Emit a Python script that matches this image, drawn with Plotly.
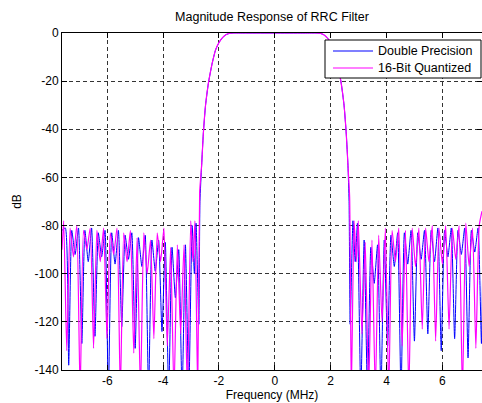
import plotly.graph_objects as go

# ---- data ----
freq_double = [
    -7.62, -7.50, -7.38, -7.27, -7.15, -7.03, -6.91, -6.80, -6.68, -6.56,
    -6.44, -6.32, -6.20, -6.08, -5.96, -5.84, -5.72, -5.60, -5.48, -5.36,
    -5.24, -5.12, -5.00, -4.88, -4.76, -4.64, -4.52, -4.40, -4.28, -4.16,
    -4.04, -3.92, -3.80, -3.68, -3.56, -3.44, -3.32, -3.20, -3.08, -2.96,
    -2.88, -2.82, -2.72,
    -2.68, -2.62, -2.56, -2.48, -2.38, -2.25, -2.12, -2.00, -1.88, -1.75,
    -1.60, -1.45, -1.00, 0.00, 1.00, 1.45, 1.60, 1.75, 1.88, 2.00,
    2.12, 2.25, 2.38, 2.48, 2.56, 2.62, 2.66,
    2.70, 2.80, 2.88, 2.96, 3.08, 3.20, 3.32, 3.44, 3.56, 3.68,
    3.80, 3.92, 4.04, 4.16, 4.28, 4.40, 4.52, 4.64, 4.76, 4.88,
    5.00, 5.12, 5.24, 5.36, 5.48, 5.60, 5.72, 5.84, 5.96, 6.08,
    6.20, 6.32, 6.44, 6.56, 6.68, 6.80, 6.92, 7.04, 7.16, 7.28,
    7.40, 7.45,
]
db_double = [
    -82, -81, -138, -82, -92, -81, -129, -82, -95, -81,
    -126, -83, -93, -82, -150, -83, -96, -82, -122, -84,
    -94, -83, -131, -85, -97, -84, -150, -86, -99, -86,
    -124, -87, -150, -89, -110, -90, -150, -88, -150, -80,
    -100, -79, -121,
    -70, -55, -42, -30, -21, -13, -7, -4, -2, -0.7,
    -0.1, 0, 0, 0, 0, 0, -0.1, -0.7, -2, -4,
    -7, -13, -21, -30, -42, -55, -70,
    -121, -78, -95, -79, -150, -86, -150, -89, -104, -88,
    -150, -86, -130, -84, -97, -83, -150, -83, -96, -82,
    -128, -83, -94, -82, -125, -82, -95, -81, -132, -82,
    -93, -81, -127, -82, -92, -81, -135, -82, -91, -81,
    -129, -90,
]

freq_quant = [
    -7.62, -7.56, -7.45, -7.33, -7.21, -7.09, -6.97, -6.85, -6.73, -6.61,
    -6.49, -6.37, -6.25, -6.13, -6.01, -5.89, -5.77, -5.65, -5.53, -5.41,
    -5.29, -5.17, -5.05, -4.93, -4.81, -4.69, -4.57, -4.45, -4.33, -4.21,
    -4.09, -3.97, -3.85, -3.73, -3.61, -3.49, -3.37, -3.25, -3.13, -3.01,
    -2.93, -2.86, -2.76,
    -2.69, -2.62, -2.56, -2.48, -2.38, -2.25, -2.12, -2.00, -1.88, -1.75,
    -1.60, -1.45, -1.00, 0.00, 1.00, 1.45, 1.60, 1.75, 1.88, 2.00,
    2.12, 2.25, 2.38, 2.48, 2.56, 2.62, 2.68,
    2.74, 2.84, 2.92, 2.99, 3.12, 3.24, 3.36, 3.48, 3.60, 3.72,
    3.84, 3.96, 4.08, 4.20, 4.32, 4.44, 4.56, 4.68, 4.80, 4.92,
    5.04, 5.16, 5.28, 5.40, 5.52, 5.64, 5.76, 5.88, 6.00, 6.12,
    6.24, 6.36, 6.48, 6.60, 6.72, 6.84, 6.96, 7.08, 7.20, 7.32,
    7.42,
]
db_quant = [
    -90, -78, -132, -81, -93, -80, -150, -82, -90, -81,
    -131, -82, -95, -81, -127, -83, -92, -81, -150, -83,
    -95, -82, -133, -85, -150, -83, -100, -86, -127, -83,
    -95, -81, -130, -89, -150, -88, -125, -88, -150, -78,
    -95, -78, -150,
    -66, -55, -42, -30, -21, -13, -7, -4, -2, -0.7,
    -0.1, 0, 0, 0, 0, 0, -0.1, -0.7, -2, -4,
    -7, -13, -21, -30, -42, -55, -68,
    -150, -78, -95, -78, -125, -87, -150, -86, -150, -84,
    -120, -81, -150, -82, -95, -81, -130, -82, -150, -81,
    -97, -81, -123, -81, -95, -80, -128, -81, -96, -80,
    -123, -81, -94, -80, -150, -79, -97, -81, -131, -80,
    -74,
]

series_names = ["Double Precision", "16-Bit Quantized"]
series_colors = ["#0000ff", "#ff00ff"]
x_ticks = [-6, -4, -2, 0, 2, 4, 6]
y_ticks = [0, -20, -40, -60, -80, -100, -120, -140]

FONT = "Liberation Sans, Arial, Helvetica, sans-serif"

# plot-area geometry in pixels (used to place the hand-drawn legend box)
PL, PR, PT, PB = 62, 482, 33, 370


def px_x(px):
    return (px - PL) / (PR - PL)


def px_y(py):
    return (PB - py) / (PB - PT)


fig = go.Figure()
fig.add_trace(go.Scatter(
    x=freq_double, y=db_double, mode="lines", name=series_names[0],
    line=dict(color=series_colors[0], width=1, shape="spline", smoothing=0.5),
    showlegend=False,
))
fig.add_trace(go.Scatter(
    x=freq_quant, y=db_quant, mode="lines", name=series_names[1],
    line=dict(color=series_colors[1], width=1.2, shape="spline", smoothing=0.5),
    showlegend=False,
))

axis_common = dict(
    showline=True, linecolor="black", linewidth=1, mirror="ticks",
    ticks="inside", ticklen=5, tickcolor="black",
    showgrid=True, gridcolor="#333333", gridwidth=1, griddash="4px,3px",
    zeroline=False, tickfont=dict(family=FONT, size=12, color="black"),
)

fig.update_xaxes(
    range=[-7.62, 7.42], tickvals=x_ticks,
    ticktext=[str(v) for v in x_ticks],
    title=dict(text="Frequency (MHz)", font=dict(family=FONT, size=12, color="black"), standoff=2),
    **axis_common,
)
fig.update_yaxes(
    range=[-140, 0], tickvals=y_ticks,
    ticktext=[str(v) for v in y_ticks],
    title=dict(text="dB", font=dict(family=FONT, size=12, color="black"), standoff=10),
    **axis_common,
)

# legend box (drawn like MATLAB's)
shapes = [dict(type="rect", xref="paper", yref="paper",
               x0=px_x(325), x1=px_x(481), y0=px_y(78), y1=px_y(40),
               line=dict(color="black", width=1), fillcolor="white", layer="above")]
annotations = []
for i, (name, color) in enumerate(zip(series_names, series_colors)):
    ly = px_y(51 + 17 * i)
    shapes.append(dict(type="line", xref="paper", yref="paper",
                       x0=px_x(333), x1=px_x(373), y0=ly, y1=ly,
                       line=dict(color=color, width=1.2), layer="above"))
    annotations.append(dict(xref="paper", yref="paper", x=px_x(376), y=ly,
                            xanchor="left", yanchor="middle", showarrow=False,
                            text=name, font=dict(family=FONT, size=12.5, color="black")))

fig.update_layout(
    width=482, height=403,
    margin=dict(l=PL, r=482 - PR, t=PT, b=403 - PB),
    paper_bgcolor="white", plot_bgcolor="white",
    title=dict(text="Magnitude Response of RRC Filter", x=0.5, xref="paper",
               y=1 - 17 / 403, yanchor="middle",
               font=dict(family=FONT, size=12.5, color="black")),
    showlegend=False,
    shapes=shapes, annotations=annotations,
    font=dict(family=FONT, size=12, color="black"),
)

fig.write_html(
    "out.html",
    config={"displayModeBar": False},
    post_script="document.body.style.margin='0';document.body.style.padding='0';"
                "document.body.style.overflow='hidden';",
)
